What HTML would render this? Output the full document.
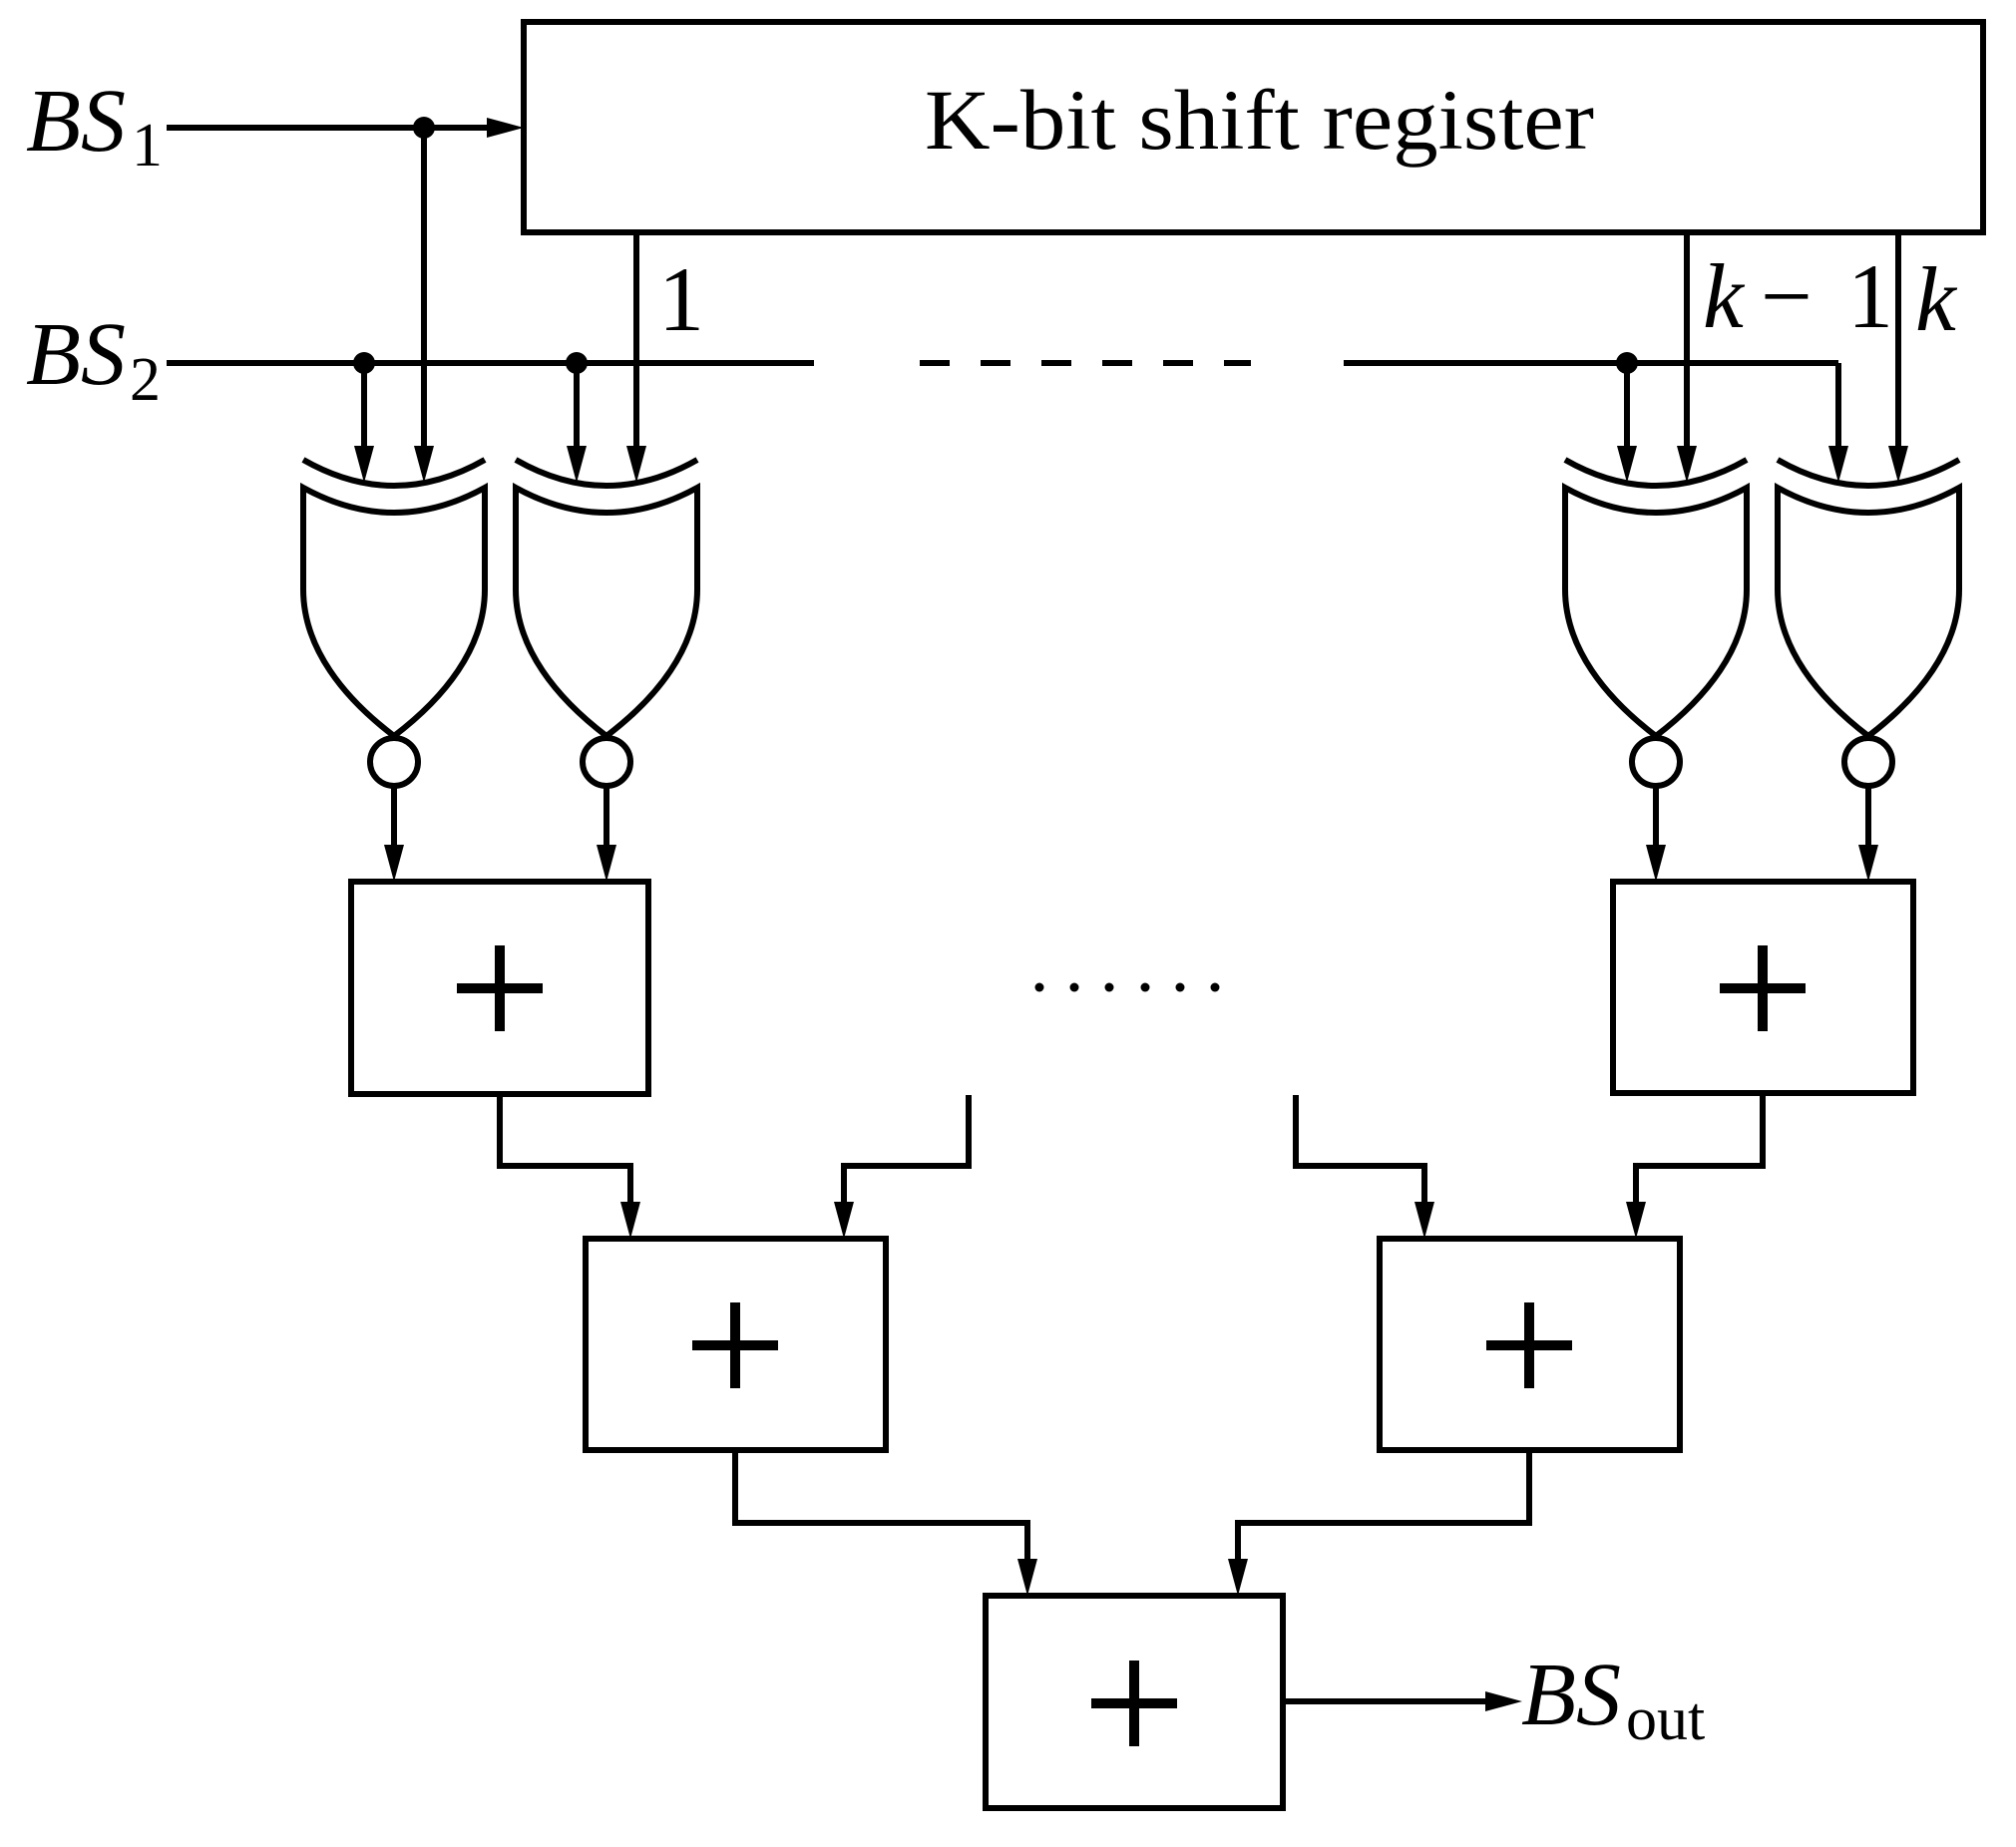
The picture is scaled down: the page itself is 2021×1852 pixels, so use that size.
<!DOCTYPE html>
<html><head><meta charset="utf-8"><style>html,body{margin:0;padding:0;background:#fff}svg{display:block}text{font-family:"Liberation Serif",serif}</style></head>
<body>
<svg width="2021" height="1852" viewBox="0 0 2021 1852" xmlns="http://www.w3.org/2000/svg">
<defs>
<g id="ah"><polygon points="0,0 -10,-37 10,-37" fill="#000"/></g>
<g id="xor" fill="none" stroke="#000" stroke-width="6">
<path d="M-91,461 Q0,513 91,461"/>
<path d="M-91,489 Q0,539 91,489 L91,591 C91,650 50,700 0,738 C-50,700 -91,650 -91,591 Z"/>
<circle cx="0" cy="764" r="24"/>
</g>
<g id="plus" stroke="#000" stroke-width="10"><line x1="-43" y1="0" x2="43" y2="0"/><line x1="0" y1="-43" x2="0" y2="43"/></g>
</defs>
<g fill="none" stroke="#000" stroke-width="6">
<rect x="525" y="22" width="1463" height="211"/>
<line x1="167" y1="128" x2="490" y2="128"/>
<line x1="425" y1="128" x2="425" y2="450"/>
<line x1="167" y1="364" x2="816" y2="364"/>
<line x1="922" y1="364" x2="1254" y2="364" stroke-dasharray="30 31"/>
<line x1="1347" y1="364" x2="1843" y2="364"/>
<line x1="1843" y1="364" x2="1843" y2="450"/>
<line x1="365" y1="364" x2="365" y2="450"/>
<line x1="578" y1="364" x2="578" y2="450"/>
<line x1="1631" y1="364" x2="1631" y2="450"/>
<line x1="638" y1="233" x2="638" y2="450"/>
<line x1="1691" y1="233" x2="1691" y2="450"/>
<line x1="1903" y1="233" x2="1903" y2="450"/>
<line x1="395" y1="788" x2="395" y2="850"/>
<line x1="608" y1="788" x2="608" y2="850"/>
<line x1="1660" y1="788" x2="1660" y2="850"/>
<line x1="1873" y1="788" x2="1873" y2="850"/>
<rect x="352" y="884" width="298" height="213"/>
<rect x="1617" y="884" width="301" height="212"/>
<polyline points="501,1097 501,1169 632,1169 632,1208"/>
<polyline points="971,1098 971,1169 846,1169 846,1208"/>
<polyline points="1299,1098 1299,1169 1428,1169 1428,1208"/>
<polyline points="1767,1096 1767,1169 1640,1169 1640,1208"/>
<rect x="587" y="1242" width="301" height="212"/>
<rect x="1383" y="1242" width="301" height="212"/>
<polyline points="737,1454 737,1527 1030,1527 1030,1566"/>
<polyline points="1533,1454 1533,1527 1241,1527 1241,1566"/>
<rect x="988" y="1600" width="298" height="213"/>
<line x1="1286" y1="1706" x2="1490" y2="1706"/>
</g>
<circle cx="425" cy="128" r="11"/>
<circle cx="365" cy="364" r="11"/>
<circle cx="578" cy="364" r="11"/>
<circle cx="1631" cy="364" r="11"/>
<polygon points="525,128 488,118 488,138" fill="#000"/>
<use href="#ah" x="365" y="484"/><use href="#ah" x="425" y="484"/>
<use href="#ah" x="578" y="484"/><use href="#ah" x="638" y="484"/>
<use href="#ah" x="1631" y="484"/><use href="#ah" x="1691" y="484"/>
<use href="#ah" x="1843" y="484"/><use href="#ah" x="1903" y="484"/>
<use href="#ah" x="395" y="884"/><use href="#ah" x="608" y="884"/>
<use href="#ah" x="1660" y="884"/><use href="#ah" x="1873" y="884"/>
<use href="#ah" x="632" y="1242"/><use href="#ah" x="846" y="1242"/>
<use href="#ah" x="1428" y="1242"/><use href="#ah" x="1640" y="1242"/>
<use href="#ah" x="1030" y="1600"/><use href="#ah" x="1241" y="1600"/>
<polygon points="1526,1706 1489,1696 1489,1716" fill="#000"/>
<use href="#xor" x="395" y="0"/><use href="#xor" x="608" y="0"/>
<use href="#xor" x="1660" y="0"/><use href="#xor" x="1873" y="0"/>
<use href="#plus" x="501" y="991"/><use href="#plus" x="1767" y="991"/>
<use href="#plus" x="737" y="1349"/><use href="#plus" x="1533" y="1349"/>
<use href="#plus" x="1137" y="1708"/>
<g fill="#000"><circle cx="1042" cy="990" r="4.5"/><circle cx="1077" cy="990" r="4.5"/><circle cx="1112" cy="990" r="4.5"/><circle cx="1148" cy="990" r="4.5"/><circle cx="1183" cy="990" r="4.5"/><circle cx="1218" cy="990" r="4.5"/></g>
<text x="927" y="149" font-size="86" textLength="671" lengthAdjust="spacingAndGlyphs">K-bit shift register</text>
<text x="26" y="151" font-size="90" font-style="italic">BS</text><text x="132" y="166" font-size="62">1</text>
<text x="26" y="385" font-size="90" font-style="italic">BS</text><text x="130" y="401" font-size="62">2</text>
<text x="660" y="331" font-size="92">1</text>
<text x="1707" y="328" font-size="92" font-style="italic">k</text>
<text x="1765" y="328" font-size="92">−</text>
<text x="1852" y="328" font-size="92">1</text>
<text x="1920" y="331" font-size="92" font-style="italic">k</text>
<text x="1525" y="1729" font-size="90" font-style="italic">BS</text><text x="1630" y="1744" font-size="62">out</text>
</svg>
</body></html>
